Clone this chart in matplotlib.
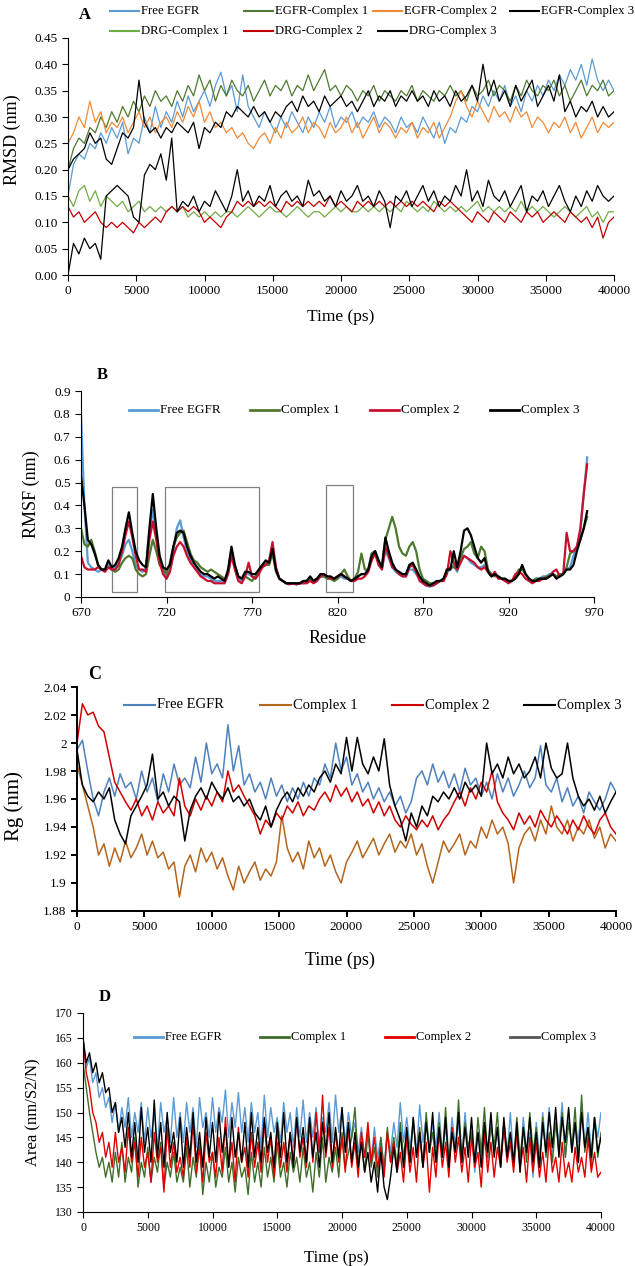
import numpy as np
import matplotlib
matplotlib.use("Agg")
import matplotlib.pyplot as plt
from matplotlib.lines import Line2D
from matplotlib.ticker import FuncFormatter, MultipleLocator, FixedLocator

plt.rcParams['font.family'] = ['Liberation Serif', 'DejaVu Serif']

W, H = 635, 1266

# ---------------------------------------------------------------- data
# panel A: RMSD, one value every 400 ps
time_a = np.arange(0, 40001, 400)
rmsd_free = [0.15, 0.21, 0.23, 0.22, 0.25, 0.24, 0.27, 0.25, 0.28, 0.26,
             0.29, 0.23, 0.26, 0.25, 0.30, 0.27, 0.32, 0.28, 0.31, 0.29,
             0.33, 0.30, 0.34, 0.31, 0.33, 0.35, 0.32, 0.36, 0.385, 0.34,
             0.36, 0.31, 0.38, 0.32, 0.30, 0.28, 0.31, 0.29, 0.27, 0.30,
             0.28, 0.31, 0.29, 0.27, 0.30, 0.28, 0.31, 0.29, 0.32, 0.28,
             0.30, 0.29, 0.31, 0.28, 0.30, 0.29, 0.31, 0.28, 0.30, 0.29,
             0.27, 0.30, 0.28, 0.29, 0.27, 0.30, 0.28, 0.26, 0.29, 0.25,
             0.28, 0.27, 0.30, 0.29, 0.32, 0.31, 0.34, 0.32, 0.35, 0.33,
             0.36, 0.32, 0.34, 0.31, 0.35, 0.33, 0.36, 0.34, 0.37, 0.35,
             0.38, 0.36, 0.39, 0.37, 0.40, 0.36, 0.41, 0.37, 0.35, 0.37, 0.35]
rmsd_egfr_c1 = [0.20, 0.24, 0.26, 0.25, 0.28, 0.27, 0.30, 0.28, 0.31, 0.29,
                0.32, 0.30, 0.33, 0.31, 0.34, 0.32, 0.35, 0.33, 0.34, 0.32,
                0.35, 0.33, 0.36, 0.34, 0.38, 0.35, 0.37, 0.33, 0.36, 0.34,
                0.37, 0.35, 0.34, 0.36, 0.33, 0.35, 0.37, 0.34, 0.36, 0.35,
                0.37, 0.34, 0.36, 0.35, 0.38, 0.35, 0.37, 0.39, 0.35, 0.36,
                0.34, 0.36, 0.35, 0.33, 0.35, 0.34, 0.36, 0.33, 0.35, 0.34,
                0.33, 0.35, 0.34, 0.36, 0.33, 0.35, 0.34, 0.33, 0.35, 0.34,
                0.36, 0.34, 0.35, 0.33, 0.36, 0.34, 0.35, 0.37, 0.34, 0.36,
                0.35, 0.33, 0.36, 0.34, 0.37, 0.35, 0.34, 0.36, 0.35, 0.37,
                0.34, 0.36, 0.33, 0.35, 0.37, 0.34, 0.36, 0.35, 0.37, 0.34, 0.35]
rmsd_egfr_c2 = [0.25, 0.27, 0.30, 0.28, 0.33, 0.29, 0.31, 0.27, 0.29, 0.28,
                0.30, 0.27, 0.29, 0.31, 0.28, 0.30, 0.27, 0.29, 0.30, 0.28,
                0.31, 0.29, 0.32, 0.30, 0.33, 0.29, 0.31, 0.28, 0.29, 0.27,
                0.28, 0.26, 0.27, 0.25, 0.24, 0.26, 0.27, 0.25, 0.28, 0.26,
                0.29, 0.27, 0.28, 0.30, 0.27, 0.29, 0.28, 0.26, 0.29, 0.27,
                0.28, 0.30, 0.27, 0.29, 0.26, 0.28, 0.30, 0.27, 0.29, 0.28,
                0.26, 0.28, 0.27, 0.29, 0.26, 0.28, 0.27, 0.29, 0.26, 0.28,
                0.30, 0.33, 0.35, 0.32, 0.30, 0.33, 0.31, 0.29, 0.32, 0.30,
                0.31, 0.29, 0.32, 0.30, 0.31, 0.28, 0.30, 0.29, 0.27, 0.29,
                0.28, 0.30, 0.27, 0.29, 0.26, 0.28, 0.30, 0.27, 0.29, 0.28, 0.29]
rmsd_egfr_c3 = [0.20, 0.22, 0.23, 0.24, 0.27, 0.25, 0.26, 0.22, 0.21, 0.24,
                0.27, 0.26, 0.28, 0.37, 0.29, 0.27, 0.28, 0.26, 0.28, 0.27,
                0.29, 0.28, 0.27, 0.29, 0.24, 0.28, 0.27, 0.29, 0.28, 0.31,
                0.30, 0.32, 0.31, 0.30, 0.32, 0.30, 0.31, 0.29, 0.31, 0.30,
                0.32, 0.33, 0.31, 0.34, 0.32, 0.33, 0.31, 0.34, 0.32, 0.33,
                0.34, 0.32, 0.33, 0.31, 0.33, 0.35, 0.32, 0.34, 0.33, 0.35,
                0.32, 0.34, 0.33, 0.35, 0.33, 0.34, 0.32, 0.35, 0.33, 0.34,
                0.32, 0.35, 0.33, 0.34, 0.36, 0.33, 0.40, 0.34, 0.37, 0.33,
                0.35, 0.32, 0.36, 0.33, 0.35, 0.37, 0.32, 0.34, 0.36, 0.33,
                0.38, 0.31, 0.33, 0.30, 0.32, 0.31, 0.33, 0.30, 0.32, 0.30, 0.31]
rmsd_drg_c1 = [0.15, 0.13, 0.16, 0.17, 0.14, 0.16, 0.13, 0.15, 0.14, 0.13,
               0.14, 0.12, 0.13, 0.14, 0.12, 0.13, 0.12, 0.13, 0.12, 0.13,
               0.12, 0.13, 0.11, 0.12, 0.11, 0.12, 0.11, 0.12, 0.11, 0.12,
               0.12, 0.11, 0.12, 0.13, 0.12, 0.11, 0.12, 0.13, 0.12, 0.12,
               0.11, 0.12, 0.13, 0.12, 0.11, 0.12, 0.12, 0.11, 0.12, 0.13,
               0.12, 0.13, 0.12, 0.12, 0.13, 0.12, 0.13, 0.12, 0.13, 0.12,
               0.13, 0.12, 0.14, 0.13, 0.12, 0.13, 0.12, 0.14, 0.13, 0.12,
               0.13, 0.12, 0.13, 0.12, 0.13, 0.14, 0.12, 0.13, 0.12, 0.13,
               0.12, 0.13, 0.12, 0.14, 0.12, 0.13, 0.12, 0.13, 0.12, 0.11,
               0.12, 0.13, 0.12, 0.11, 0.12, 0.13, 0.11, 0.12, 0.10, 0.12, 0.12]
rmsd_drg_c2 = [0.13, 0.11, 0.12, 0.10, 0.11, 0.12, 0.10, 0.09, 0.10, 0.09,
               0.10, 0.09, 0.08, 0.10, 0.09, 0.10, 0.11, 0.10, 0.12, 0.13,
               0.12, 0.13, 0.12, 0.13, 0.12, 0.10, 0.11, 0.10, 0.09, 0.11,
               0.12, 0.14, 0.13, 0.14, 0.13, 0.14, 0.13, 0.14, 0.13, 0.12,
               0.14, 0.13, 0.14, 0.13, 0.14, 0.13, 0.14, 0.13, 0.15, 0.13,
               0.14, 0.13, 0.12, 0.14, 0.13, 0.14, 0.13, 0.14, 0.13, 0.14,
               0.13, 0.14, 0.13, 0.14, 0.13, 0.14, 0.13, 0.12, 0.14, 0.13,
               0.14, 0.13, 0.12, 0.11, 0.10, 0.12, 0.11, 0.10, 0.12, 0.11,
               0.10, 0.12, 0.11, 0.10, 0.12, 0.11, 0.12, 0.10, 0.11, 0.12,
               0.11, 0.10, 0.12, 0.11, 0.10, 0.11, 0.09, 0.11, 0.07, 0.10, 0.11]
rmsd_drg_c3 = [0.00, 0.06, 0.04, 0.07, 0.05, 0.06, 0.03, 0.15, 0.16, 0.17,
               0.16, 0.15, 0.11, 0.10, 0.19, 0.21, 0.20, 0.23, 0.18, 0.26,
               0.12, 0.14, 0.13, 0.15, 0.12, 0.14, 0.13, 0.16, 0.14, 0.12,
               0.15, 0.20, 0.14, 0.16, 0.13, 0.15, 0.14, 0.17, 0.13, 0.15,
               0.16, 0.14, 0.15, 0.13, 0.18, 0.15, 0.16, 0.14, 0.15, 0.13,
               0.16, 0.14, 0.15, 0.17, 0.14, 0.15, 0.13, 0.16, 0.14, 0.09,
               0.15, 0.14, 0.16, 0.13, 0.15, 0.17, 0.14, 0.16, 0.13, 0.15,
               0.14, 0.17, 0.15, 0.20, 0.14, 0.16, 0.13, 0.18, 0.15, 0.14,
               0.16, 0.13, 0.15, 0.17, 0.12, 0.15, 0.14, 0.16, 0.13, 0.15,
               0.17, 0.14, 0.12, 0.15, 0.13, 0.16, 0.14, 0.17, 0.15, 0.14, 0.15]

# panel B: RMSF per residue, every 2nd residue
residues = np.arange(670, 967, 2)
rmsf_free = [0.80, 0.40, 0.15, 0.13, 0.12, 0.11, 0.12, 0.12, 0.14, 0.12,
             0.13, 0.15, 0.18, 0.23, 0.25, 0.20, 0.14, 0.12, 0.11, 0.13,
             0.28, 0.38, 0.28, 0.16, 0.12, 0.08, 0.12, 0.20, 0.30, 0.335,
             0.26, 0.20, 0.16, 0.14, 0.12, 0.10, 0.09, 0.09, 0.08, 0.07,
             0.07, 0.07, 0.07, 0.11, 0.21, 0.13, 0.08, 0.07, 0.10, 0.10,
             0.09, 0.08, 0.11, 0.14, 0.15, 0.15, 0.20, 0.12, 0.08, 0.07,
             0.06, 0.06, 0.06, 0.055, 0.06, 0.06, 0.07, 0.08, 0.07, 0.08,
             0.09, 0.09, 0.08, 0.08, 0.07, 0.08, 0.09, 0.08, 0.08, 0.07,
             0.08, 0.09, 0.10, 0.10, 0.12, 0.19, 0.20, 0.16, 0.13, 0.20,
             0.17, 0.13, 0.11, 0.10, 0.09, 0.09, 0.12, 0.12, 0.10, 0.08,
             0.06, 0.05, 0.045, 0.05, 0.06, 0.07, 0.08, 0.11, 0.12, 0.14,
             0.11, 0.16, 0.18, 0.17, 0.15, 0.14, 0.13, 0.13, 0.14, 0.12,
             0.09, 0.10, 0.09, 0.08, 0.07, 0.07, 0.07, 0.09, 0.10, 0.13,
             0.10, 0.08, 0.07, 0.08, 0.08, 0.09, 0.09, 0.10, 0.10, 0.09,
             0.09, 0.10, 0.12, 0.13, 0.18, 0.22, 0.28, 0.45, 0.61]
rmsf_c1 = [0.30, 0.23, 0.22, 0.25, 0.20, 0.14, 0.12, 0.12, 0.13, 0.12,
           0.11, 0.12, 0.15, 0.17, 0.18, 0.17, 0.12, 0.10, 0.09, 0.10,
           0.18, 0.25, 0.20, 0.14, 0.12, 0.10, 0.15, 0.22, 0.26, 0.28,
           0.29, 0.24, 0.19, 0.16, 0.15, 0.13, 0.12, 0.11, 0.12, 0.11,
           0.10, 0.09, 0.08, 0.10, 0.19, 0.13, 0.09, 0.08, 0.09, 0.08,
           0.07, 0.09, 0.11, 0.13, 0.14, 0.14, 0.19, 0.11, 0.08, 0.07,
           0.06, 0.06, 0.06, 0.06, 0.06, 0.07, 0.07, 0.08, 0.07, 0.08,
           0.09, 0.09, 0.08, 0.08, 0.07, 0.08, 0.10, 0.12, 0.09, 0.07,
           0.08, 0.11, 0.19, 0.12, 0.12, 0.19, 0.20, 0.15, 0.14, 0.25,
           0.30, 0.35, 0.30, 0.22, 0.19, 0.18, 0.22, 0.24, 0.20, 0.12,
           0.08, 0.07, 0.06, 0.06, 0.06, 0.07, 0.07, 0.12, 0.13, 0.13,
           0.12, 0.17, 0.21, 0.22, 0.24, 0.19, 0.17, 0.22, 0.20, 0.12,
           0.10, 0.09, 0.09, 0.08, 0.08, 0.07, 0.07, 0.09, 0.12, 0.12,
           0.10, 0.08, 0.07, 0.08, 0.08, 0.08, 0.09, 0.09, 0.10, 0.09,
           0.10, 0.10, 0.13, 0.19, 0.20, 0.22, 0.25, 0.30, 0.35]
rmsf_c2 = [0.18, 0.13, 0.12, 0.12, 0.12, 0.13, 0.12, 0.11, 0.13, 0.12,
           0.12, 0.14, 0.20, 0.27, 0.33, 0.26, 0.18, 0.12, 0.12, 0.11,
           0.25, 0.33, 0.25, 0.15, 0.10, 0.08, 0.11, 0.18, 0.22, 0.24,
           0.22, 0.18, 0.15, 0.13, 0.11, 0.09, 0.08, 0.07, 0.07, 0.06,
           0.06, 0.06, 0.06, 0.10, 0.18, 0.12, 0.07, 0.06, 0.09, 0.15,
           0.09, 0.08, 0.10, 0.13, 0.14, 0.16, 0.24, 0.13, 0.08, 0.07,
           0.06, 0.055, 0.06, 0.055, 0.06, 0.06, 0.06, 0.07, 0.06, 0.07,
           0.09, 0.10, 0.09, 0.08, 0.08, 0.09, 0.10, 0.09, 0.08, 0.07,
           0.07, 0.08, 0.08, 0.09, 0.11, 0.16, 0.19, 0.14, 0.12, 0.22,
           0.18, 0.13, 0.12, 0.10, 0.09, 0.09, 0.13, 0.14, 0.11, 0.07,
           0.06, 0.05, 0.05, 0.05, 0.06, 0.07, 0.07, 0.10, 0.20, 0.15,
           0.12, 0.15, 0.18, 0.17, 0.16, 0.15, 0.13, 0.12, 0.13, 0.11,
           0.09, 0.11, 0.08, 0.08, 0.07, 0.06, 0.07, 0.10, 0.11, 0.10,
           0.08, 0.07, 0.06, 0.07, 0.07, 0.08, 0.08, 0.09, 0.11, 0.12,
           0.09, 0.10, 0.28, 0.20, 0.20, 0.22, 0.30, 0.45, 0.58]
rmsf_c3 = [0.53, 0.40, 0.25, 0.23, 0.19, 0.14, 0.12, 0.12, 0.16, 0.13,
           0.14, 0.17, 0.22, 0.30, 0.37, 0.28, 0.20, 0.16, 0.14, 0.13,
           0.30, 0.45, 0.30, 0.18, 0.13, 0.12, 0.14, 0.22, 0.28, 0.29,
           0.28, 0.22, 0.18, 0.15, 0.13, 0.11, 0.10, 0.10, 0.09, 0.08,
           0.09, 0.08, 0.07, 0.12, 0.22, 0.14, 0.09, 0.08, 0.11, 0.11,
           0.10, 0.10, 0.12, 0.14, 0.16, 0.15, 0.21, 0.12, 0.08, 0.07,
           0.06, 0.06, 0.06, 0.06, 0.06, 0.07, 0.07, 0.09, 0.07, 0.08,
           0.10, 0.10, 0.09, 0.09, 0.08, 0.09, 0.10, 0.09, 0.08, 0.07,
           0.08, 0.09, 0.10, 0.10, 0.12, 0.18, 0.20, 0.16, 0.13, 0.26,
           0.20, 0.15, 0.12, 0.11, 0.10, 0.10, 0.14, 0.15, 0.12, 0.09,
           0.07, 0.06, 0.05, 0.06, 0.07, 0.07, 0.08, 0.12, 0.12, 0.20,
           0.13, 0.20, 0.29, 0.30, 0.27, 0.22, 0.17, 0.15, 0.17, 0.11,
           0.09, 0.10, 0.09, 0.08, 0.08, 0.07, 0.07, 0.08, 0.10, 0.14,
           0.10, 0.08, 0.07, 0.07, 0.08, 0.08, 0.08, 0.09, 0.10, 0.08,
           0.09, 0.10, 0.12, 0.12, 0.14, 0.20, 0.25, 0.30, 0.375]
# highlighted regions (residue from, residue to, height)
boxes_b = [(688, 703, 0.48), (719, 774, 0.48), (813, 829, 0.49)]

# panel C: radius of gyration, every 400 ps
time_c = np.arange(0, 40001, 400)
rg_free = [1.995, 2.002, 1.98, 1.96, 1.948, 1.965, 1.975, 1.962, 1.978, 1.968,
           1.972, 1.96, 1.98, 1.965, 1.975, 1.958, 1.978, 1.965, 1.985, 1.97,
           1.975, 1.968, 1.99, 1.972, 2.0, 1.978, 1.985, 1.975, 2.013, 1.98,
           1.998, 1.97, 1.978, 1.965, 1.972, 1.96, 1.975, 1.962, 1.97, 1.958,
           1.968, 1.96, 1.972, 1.962, 1.975, 1.97, 1.985, 1.975, 2.0, 1.98,
           1.99, 1.97, 1.978, 1.965, 1.972, 1.96, 1.968, 1.958, 1.965, 1.955,
           1.962, 1.95, 1.958, 1.975, 1.98, 1.97, 1.985, 1.972, 1.98, 1.968,
           1.978, 1.965, 1.982, 1.97, 1.975, 1.962, 1.972, 1.96, 1.978, 1.965,
           1.975, 1.962, 1.97, 1.98, 1.968, 1.975, 1.998, 1.97, 1.965, 1.975,
           1.958, 1.968, 1.955, 1.962, 1.95, 1.965, 1.958, 1.952, 1.96, 1.972, 1.965]
rg_c1 = [1.985, 1.97, 1.955, 1.94, 1.92, 1.928, 1.912, 1.925, 1.915, 1.93,
         1.918, 1.925, 1.935, 1.92, 1.93, 1.918, 1.922, 1.91, 1.915, 1.89,
         1.912, 1.92, 1.908, 1.925, 1.915, 1.922, 1.91, 1.918, 1.905, 1.895,
         1.912, 1.9, 1.908, 1.915, 1.902, 1.91, 1.905, 1.915, 1.948, 1.925,
         1.915, 1.922, 1.91, 1.93, 1.918, 1.925, 1.912, 1.92, 1.908, 1.9,
         1.915, 1.922, 1.93, 1.918, 1.925, 1.932, 1.92, 1.928, 1.935, 1.922,
         1.93, 1.925, 1.935, 1.92, 1.928, 1.912, 1.9, 1.915, 1.93, 1.922,
         1.928, 1.935, 1.92, 1.93, 1.925, 1.94, 1.932, 1.945, 1.935, 1.94,
         1.928, 1.9, 1.925, 1.935, 1.94, 1.93, 1.945, 1.935, 1.955, 1.94,
         1.935, 1.945, 1.93, 1.94, 1.935, 1.945, 1.932, 1.94, 1.925, 1.935, 1.93]
rg_c2 = [2.0, 2.028, 2.02, 2.022, 2.012, 2.008, 1.99, 1.972, 1.965, 1.958,
         1.952, 1.96, 1.948, 1.955, 1.945, 1.958, 1.95, 1.955, 1.948, 1.975,
         1.955, 1.948, 1.96, 1.952, 1.962, 1.955, 1.965, 1.958, 1.98, 1.965,
         1.97, 1.962, 1.955, 1.948, 1.935, 1.945, 1.94, 1.95, 1.945, 1.955,
         1.95, 1.958, 1.948, 1.955, 1.952, 1.96, 1.965, 1.958, 1.97, 1.962,
         1.968, 1.958, 1.965, 1.955, 1.96, 1.95, 1.958, 1.948, 1.955, 1.945,
         1.94, 1.948, 1.942, 1.938, 1.945, 1.94, 1.948, 1.938, 1.945, 1.95,
         1.958, 1.965, 1.955, 1.968, 1.96, 1.972, 1.965, 1.98, 1.958, 1.95,
         1.945, 1.938, 1.95, 1.942, 1.948, 1.94, 1.952, 1.945, 1.94, 1.948,
         1.942, 1.935, 1.945, 1.938, 1.948, 1.94, 1.935, 1.945, 1.95, 1.94, 1.935]
rg_c3 = [1.995, 1.97, 1.962, 1.958, 1.965, 1.96, 1.968, 1.945, 1.935, 1.928,
         1.948, 1.955, 1.962, 1.97, 1.992, 1.96, 1.965, 1.955, 1.962, 1.958,
         1.93, 1.952, 1.962, 1.968, 1.96, 1.972, 1.965, 1.96, 1.968, 1.958,
         1.962, 1.955, 1.96, 1.95, 1.945, 1.955, 1.94, 1.952, 1.96, 1.965,
         1.958, 1.968, 1.962, 1.97, 1.965, 1.975, 1.98, 1.972, 1.985, 1.978,
         2.004, 1.98, 2.004, 1.985, 1.978, 1.99, 1.98, 2.003, 1.97, 1.955,
         1.945, 1.93, 1.95, 1.94, 1.955, 1.948, 1.962, 1.958, 1.965, 1.96,
         1.968, 1.96, 1.972, 1.965, 1.97, 1.962, 2.0, 1.978, 1.985, 1.975,
         1.99, 1.978, 1.985, 1.975, 1.98, 1.99, 1.975, 2.0, 1.982, 1.975,
         1.978, 2.0, 1.975, 1.962, 1.955, 1.96, 1.952, 1.962, 1.95, 1.958, 1.965]

# panel D: surface area, every 250 ps
time_d = np.arange(0, 40001, 250)
area_free = [165, 159, 161, 156, 158, 153, 155, 151, 153, 148,
             152, 146, 151, 147, 153, 145, 150, 146, 152, 144,
             151, 145, 150, 143, 152, 146, 149, 144, 153, 145,
             150, 144, 152, 146, 151, 143, 153, 147, 150, 145,
             153, 146, 151, 148, 154.5, 145, 152, 147, 154, 146,
             151, 144, 152, 146, 150, 143, 153.5, 145, 151, 146,
             149, 144, 152, 146, 150, 143, 151, 145, 152.5, 144,
             150, 145, 151, 143, 149, 146, 152, 144, 153.5, 146,
             151, 144, 150, 145, 148, 142, 147, 141, 146, 140,
             147, 141, 145, 139, 146, 142, 148, 143, 152, 144,
             149, 143, 148, 142, 151.5, 144, 149, 142, 148, 143,
             150, 142, 147, 141, 149, 143, 148, 140, 150, 142,
             147, 138, 146, 141, 148, 140, 149, 142, 147, 139,
             148, 141, 150, 140, 147, 138, 149, 142, 146, 137,
             148, 141, 150, 143, 151, 142, 149, 144, 152, 141,
             150, 142, 148, 144, 152, 143, 150, 142, 149, 145, 150]
area_c1 = [160, 155, 150, 146, 142, 139, 141, 137, 140, 136,
           142, 137, 144, 136, 141, 138, 145, 135, 140, 137,
           143, 136, 141, 138, 144, 135, 140, 137, 142, 136,
           139, 136, 143, 135, 141, 137, 144, 133.5, 140, 136,
           142, 135, 139, 137, 143, 136, 140, 134, 141, 137,
           139, 133.5, 142, 136, 140, 135, 143, 137, 141, 136,
           144, 137, 140, 135, 142, 138, 141, 136, 143, 137,
           140, 134, 142, 137, 145, 136, 141, 138, 143, 137,
           146, 139, 142, 145, 151, 140, 144, 138, 146, 139,
           143, 137, 145, 138, 147, 140, 145, 139, 148, 141,
           146, 140, 149, 141, 147, 139, 150, 142, 146, 140,
           148, 141, 151, 140, 147, 142, 152.5, 141, 148, 143,
           146, 140, 149, 142, 151, 141, 147, 143, 150, 140,
           148, 142, 146, 139, 149, 141, 147, 140, 150, 142,
           147, 139, 149, 141, 146, 140, 148, 142, 150, 141,
           148, 143, 151, 140, 153.5, 142, 147, 139, 149, 141, 146]
area_c2 = [165, 158, 155, 150, 148, 144, 146, 141, 144, 139,
           146, 140, 143, 138, 147, 140, 144, 137, 145, 139,
           142, 136, 146, 140, 143, 134, 147, 139, 144, 138,
           141, 137, 145, 139, 148, 138, 143, 136, 146, 140,
           142, 137, 145, 138, 149, 139, 144, 136, 147, 140,
           143, 137, 146, 139, 144, 138, 148, 140, 145, 137,
           147, 139, 144, 138, 146, 140, 149, 141, 145, 139,
           148, 140, 150, 142, 153.5, 141, 147, 139, 146, 140,
           145, 138, 147, 139, 144, 137, 146, 141, 148, 140,
           145, 139, 143, 137, 146, 140, 144, 138, 142, 136,
           145, 138, 143, 136, 146, 139, 144, 134, 143, 137,
           146, 139, 144, 137, 147, 140, 145, 138, 143, 136,
           145, 139, 142, 135, 146, 138, 144, 137, 143, 139,
           147, 140, 144, 138, 146, 139, 143, 136, 145, 138,
           144, 137, 142, 136, 145, 138, 141, 136, 144, 137,
           140, 136, 143, 138, 141, 137, 145, 138, 142, 137, 138]
area_c3 = [165, 160, 162, 158, 160, 156, 158, 154, 155, 150,
           152, 146, 149, 143, 150, 141, 148, 140, 151, 142,
           147, 140, 152.5, 141, 148, 139, 150, 142, 146, 140,
           149, 139, 147, 141, 150, 140, 146, 139, 149, 141,
           148, 140, 150, 142, 147, 139, 149, 141, 146, 140,
           148, 139, 150, 141, 147, 140, 149, 142, 146, 139,
           148, 141, 150, 140, 146, 139, 149, 142, 147, 140,
           149, 141, 146, 139, 148, 142, 150, 140, 147, 141,
           151, 142, 148, 140, 146, 139, 144, 138, 142, 136,
           140, 134, 142, 135, 132.5, 137, 143, 138, 146, 139,
           147, 140, 149, 141, 146, 139, 148, 142, 150, 140,
           147, 141, 149, 139, 146, 142, 150, 140, 147, 141,
           149, 140, 146, 139, 148, 142, 150, 141, 147, 139,
           149, 141, 146, 140, 148, 138, 147, 142, 149, 140,
           146, 139, 148, 142, 150, 143, 151, 141, 149, 144,
           151, 142, 148, 140, 150, 143, 147, 141, 149, 142, 145]

# ---------------------------------------------------------------- helpers
def place(l, t, r, b):
    # axes box from pixel edges
    return fig.add_axes([l / W, 1 - b / H, (r - l) / W, (b - t) / H])


def style(ax, lw=0.8):
    for s in ['top', 'right']:
        ax.spines[s].set_visible(False)
    for s in ['left', 'bottom']:
        ax.spines[s].set_linewidth(lw)
    ax.tick_params(direction='out', length=4, width=lw, labelsize=9.5)


def legend_row(y, xs, labels, colors, lw=1.5, length=29, fs=9.5):
    for x, lab, c in zip(xs, labels, colors):
        fig.add_artist(Line2D([x / W, (x + length) / W], [1 - y / H] * 2,
                              color=c, lw=lw))
        fig.text((x + length + 2) / W, 1 - y / H, lab, fontsize=fs,
                 va='center', ha='left')


gfmt = FuncFormatter(lambda v, p: '%g' % round(v, 4))

fig = plt.figure(figsize=(W / 100, H / 100), dpi=100)

# ---------------------------------------------------------------- A
c_free = '#5B9BD5'
c_dkgreen = '#4E7A2F'
c_orange = '#F08A36'
c_ltgreen = '#70AD47'
c_red = '#C00000'

axA = place(68, 38, 614, 275)
series_a = [(rmsd_free, c_free), (rmsd_egfr_c1, c_dkgreen), (rmsd_egfr_c2, c_orange),
            (rmsd_egfr_c3, 'black'), (rmsd_drg_c1, c_ltgreen), (rmsd_drg_c2, c_red),
            (rmsd_drg_c3, 'black')]
for vals, col in series_a:
    axA.plot(time_a, vals, color=col, lw=0.9)
axA.set_xlim(0, 40000)
axA.set_ylim(0, 0.45)
axA.xaxis.set_major_locator(MultipleLocator(5000))
axA.yaxis.set_major_locator(MultipleLocator(0.05))
axA.yaxis.set_major_formatter(FuncFormatter(lambda v, p: '%.2f' % v))
style(axA)
axA.set_xlabel('Time (ps)', fontsize=12.5)
axA.xaxis.set_label_coords(0.5, -0.145)
axA.set_ylabel('RMSD (nm)', fontsize=13)
axA.yaxis.set_label_coords(-0.086, 0.57)
axA.text(0.031, 1.097, 'A', transform=axA.transAxes, fontsize=12,
         fontweight='bold', ha='center', va='center')
legend_row(11, [110, 244, 373, 510],
           ['Free EGFR', 'EGFR-Complex 1', 'EGFR-Complex 2', 'EGFR-Complex 3'],
           [c_free, c_dkgreen, c_orange, 'black'], fs=9.2)
legend_row(31, [110, 244, 378],
           ['DRG-Complex 1', 'DRG-Complex 2', 'DRG-Complex 3'],
           [c_ltgreen, c_red, 'black'], fs=9.2)

# ---------------------------------------------------------------- B
axB = place(81, 391, 594, 597)
for vals, col in [(rmsf_free, c_free), (rmsf_c1, c_dkgreen),
                  (rmsf_c2, '#C8102E'), (rmsf_c3, 'black')]:
    axB.plot(residues, vals, color=col, lw=1.6)
for r0, r1, top in boxes_b:
    axB.add_patch(plt.Rectangle((r0, 0.02), r1 - r0, top - 0.02, fill=False,
                                edgecolor='#808080', lw=0.9))
axB.set_xlim(670, 970)
axB.set_ylim(0, 0.9)
axB.xaxis.set_major_locator(FixedLocator(np.arange(670, 971, 50)))
axB.yaxis.set_major_locator(MultipleLocator(0.1))
axB.yaxis.set_major_formatter(gfmt)
style(axB)
axB.set_xlabel('Residue', fontsize=13)
axB.xaxis.set_label_coords(0.5, -0.16)
axB.set_ylabel('RMSF (nm)', fontsize=13)
axB.yaxis.set_label_coords(-0.08, 0.5)
axB.text(0.041, 1.078, 'B', transform=axB.transAxes, fontsize=12,
         fontweight='bold', ha='center', va='center')
legend_row(410, [129, 250, 370, 490],
           ['Free EGFR', 'Complex 1', 'Complex 2', 'Complex 3'],
           [c_free, c_dkgreen, '#C8102E', 'black'], lw=2)

# ---------------------------------------------------------------- C
c_blue_c = '#4F81BD'
c_brown = '#B5651D'
c_red_c = '#D00000'
axC = place(77, 687, 616, 911)
for vals, col in [(rg_free, c_blue_c), (rg_c1, c_brown),
                  (rg_c2, c_red_c), (rg_c3, 'black')]:
    axC.plot(time_c, vals, color=col, lw=1.1)
axC.set_xlim(0, 40000)
axC.set_ylim(1.88, 2.04)
axC.xaxis.set_major_locator(MultipleLocator(5000))
axC.yaxis.set_major_locator(MultipleLocator(0.02))
axC.yaxis.set_major_formatter(gfmt)
style(axC, lw=1.4)
axC.set_xlabel('Time (ps)', fontsize=13)
axC.xaxis.set_label_coords(0.488, -0.183)
axC.set_ylabel('Rg (nm)', fontsize=15)
axC.yaxis.set_label_coords(-0.098, 0.47)
axC.text(0.033, 1.054, 'C', transform=axC.transAxes, fontsize=13,
         fontweight='bold', ha='center', va='center')
legend_row(705, [124, 260, 392, 524],
           ['Free EGFR', 'Complex 1', 'Complex 2', 'Complex 3'],
           [c_blue_c, c_brown, c_red_c, 'black'], lw=1.5, length=31, fs=10.5)

# ---------------------------------------------------------------- D
c_green_d = '#3F6E2A'
c_red_d = '#E00000'
axD = place(83, 1013, 601, 1212)
for vals, col in [(area_free, c_free), (area_c1, c_green_d),
                  (area_c2, c_red_d), (area_c3, 'black')]:
    axD.plot(time_d, vals, color=col, lw=1.0)
axD.set_xlim(0, 40000)
axD.set_ylim(130, 170)
axD.xaxis.set_major_locator(MultipleLocator(5000))
axD.yaxis.set_major_locator(MultipleLocator(5))
style(axD)
axD.tick_params(labelsize=8.5)
axD.set_xlabel('Time (ps)', fontsize=12)
axD.xaxis.set_label_coords(0.49, -0.19)
axD.set_ylabel('Area (nm/S2/N)', fontsize=12)
axD.yaxis.set_label_coords(-0.081, 0.5)
axD.text(0.042, 1.08, 'D', transform=axD.transAxes, fontsize=12,
         fontweight='bold', ha='center', va='center')
legend_row(1037, [134, 260, 385, 510],
           ['Free EGFR', 'Complex 1', 'Complex 2', 'Complex 3'],
           [c_free, c_green_d, c_red_d, '#555555'], lw=2, fs=9)

fig.savefig('out.png', dpi=100)
